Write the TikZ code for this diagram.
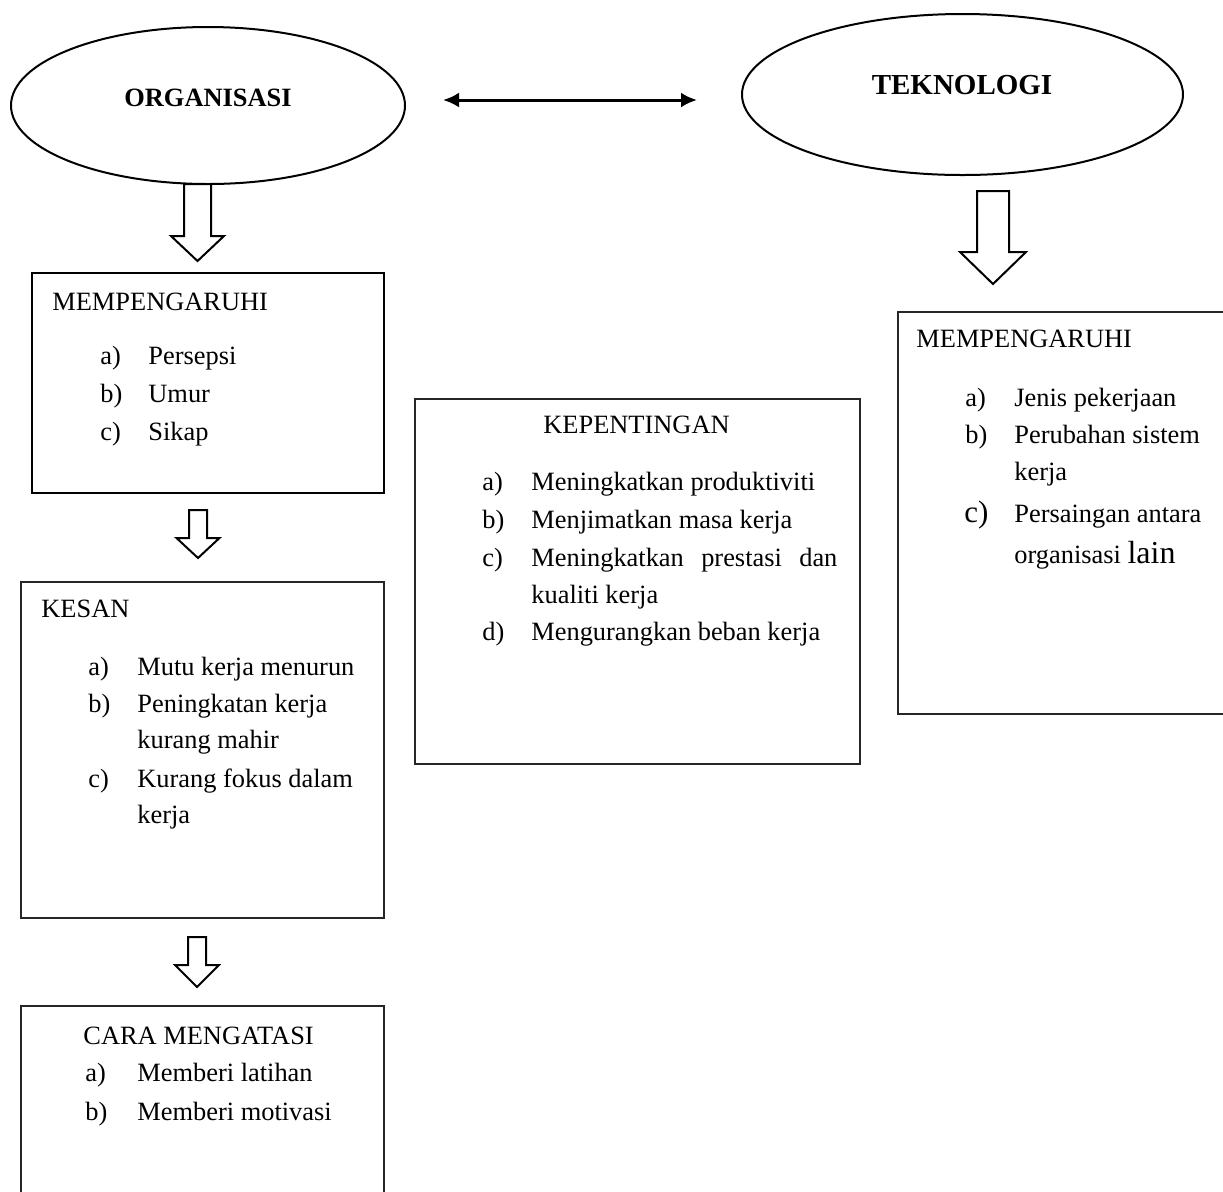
\documentclass[tikz,border=0pt]{standalone}
\usepackage{fontspec}
\setmainfont{Liberation Serif}
\usetikzlibrary{shapes.geometric,arrows.meta}
\newdimen\pxu \pxu=0.5pt
\newcommand{\hollowarr}[6]{%
  \draw[hol] ({#1-#5},#2) -- ({#1+#5},#2) -- ({#1+#5},#3) -- ({#1+#6},#3)
    -- (#1,#4) -- ({#1-#6},#3) -- ({#1-#5},#3) -- cycle;}
\begin{document}
\begin{tikzpicture}[x=0.5pt,y=-0.5pt,
  ell/.style={ellipse, draw, line width=1pt, inner sep=0pt},
  boxa/.style={rectangle, draw, line width=1pt, anchor=north west, inner sep=0pt},
  boxb/.style={rectangle, draw=black!85, line width=0.75pt, anchor=north west, inner sep=0pt},
  hol/.style={draw, line width=1pt, line join=miter, fill=white},
  txt/.style={inner sep=0pt, anchor=base west, font=\fontsize{13.2}{16}\selectfont},
  ttl/.style={inner sep=0pt, anchor=base, font=\fontsize{13.2}{16}\selectfont\bfseries},
  dbl/.style={arrows={Latex[length=8pt,width=7.5pt]-Latex[length=8pt,width=7.5pt]}, line width=1.5pt}
]
\useasboundingbox (0,0) rectangle (1223,1191);
\clip (0,0) rectangle (1223,1191);
\fill[white] (0,0) rectangle (1223,1191);

% ellipses
\node[ell, minimum width=394\pxu, minimum height=157\pxu] (org) at (208,105.5) {};
\node[ttl] (orgt) at (208,106) {ORGANISASI};
\node[ell, minimum width=441\pxu, minimum height=161\pxu] (tek) at (962.5,94.5) {};
\node[ttl, font=\fontsize{14.5}{16}\selectfont\bfseries] (tekt) at (962,94) {TEKNOLOGI};

% double arrow
\coordinate (dl) at (443,100);
\coordinate (dr) at (697,100);
\draw[dbl] (dl) -- (dr);

% boxes
\node[boxa, minimum width=352\pxu, minimum height=220\pxu] (b1) at (31,272) {};
\node[boxb, minimum width=363\pxu, minimum height=336\pxu] (b2) at (20,581) {};
\node[boxb, minimum width=363\pxu, minimum height=220\pxu] (b3) at (20,1005) {};
\node[boxb, minimum width=445\pxu, minimum height=365\pxu] (b4) at (414,398) {};
\node[boxb, minimum width=345\pxu, minimum height=402\pxu] (b5) at (897,311) {};

% hollow arrows
\hollowarr{197.5}{184}{236}{261}{13.5}{26.5}
\hollowarr{198}{510}{538}{558}{9}{21.5}
\hollowarr{197}{937}{965}{987}{9}{22}
\hollowarr{993}{191}{252}{284}{16}{33}

% box 1 text
\node[txt] (b1h) at (52,310) {MEMPENGARUHI};
\node[txt] (b1a) at (100,364) {a)};
\node[txt] (b1at) at (148,364) {Persepsi};
\node[txt] (b1b) at (100,402) {b)};
\node[txt] (b1bt) at (148,402) {Umur};
\node[txt] (b1c) at (100,440) {c)};
\node[txt] (b1ct) at (148,440) {Sikap};

% box 2 text
\node[txt] (b2h) at (41,617) {KESAN};
\node[txt] (b2a) at (88,675) {a)};
\node[txt] (b2at) at (137,675) {Mutu kerja menurun};
\node[txt] (b2b) at (88,712) {b)};
\node[txt] (b2bt) at (137,712) {Peningkatan kerja};
\node[txt] (b2bt2) at (137,748) {kurang mahir};
\node[txt] (b2c) at (88,787) {c)};
\node[txt] (b2ct) at (137,787) {Kurang fokus dalam};
\node[txt] (b2ct2) at (137,823) {kerja};

% box 3 text
\node[txt] (b3h) at (83,1044) {CARA MENGATASI};
\node[txt] (b3a) at (85,1081) {a)};
\node[txt] (b3at) at (137,1081) {Memberi latihan};
\node[txt] (b3b) at (85,1120) {b)};
\node[txt] (b3bt) at (137,1120) {Memberi motivasi};

% box 4 text
\node[txt] (b4h) at (543,433) {KEPENTINGAN};
\node[txt] (b4a) at (482,490) {a)};
\node[txt] (b4at) at (531,490) {Meningkatkan produktiviti};
\node[txt] (b4b) at (482,528) {b)};
\node[txt] (b4bt) at (531,528) {Menjimatkan masa kerja};
\node[txt] (b4c) at (482,566) {c)};
\node[txt] (b4ct) at (531,566) {\makebox[153pt][s]{Meningkatkan prestasi dan}};
\node[txt] (b4ct2) at (531,603) {kualiti kerja};
\node[txt] (b4d) at (482,640) {d)};
\node[txt] (b4dt) at (531,640) {Mengurangkan beban kerja};

% box 5 text
\node[txt] (b5h) at (916,347) {MEMPENGARUHI};
\node[txt] (b5a) at (965,406) {a)};
\node[txt] (b5at) at (1014,406) {Jenis pekerjaan};
\node[txt] (b5b) at (965,443) {b)};
\node[txt] (b5bt) at (1014,443) {Perubahan sistem};
\node[txt] (b5bt2) at (1014,480) {kerja};
\node[txt, font=\fontsize{15.5}{18}\selectfont] (b5c) at (964,522) {c)};
\node[txt] (b5ct) at (1014,522) {Persaingan antara};
\node[txt] (b5ct2) at (1014,563) {organisasi {\fontsize{16}{18}\selectfont lain}};
\end{tikzpicture}
\end{document}
